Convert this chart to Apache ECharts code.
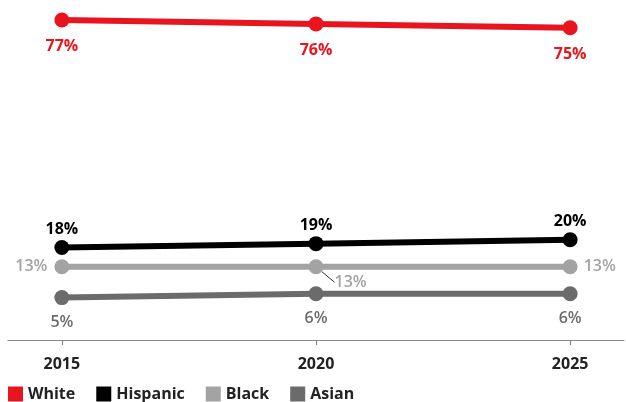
<!DOCTYPE html>
<html><head><meta charset="utf-8">
<script src="https://cdn.jsdelivr.net/npm/echarts@6/dist/echarts.min.js"></script>
<style>html,body{margin:0;padding:0;background:#fff}#c{width:626px;height:402px}</style>
</head><body><div id="c"></div>
<script>
const years = [2015, 2020, 2025];
const tickYears = [2015, 2020, 2025];
const seriesNames = ['White', 'Hispanic', 'Black', 'Asian'];
const white = [77, 76, 75];
const hispanic = [18, 19, 20];
const black = [13, 13, 13];
const asian = [5, 6, 6];
const colors = ['#e8141e', '#000000', '#a3a3a3', '#6b6b6b'];

const FONT = '"Open Sans"';
function pairs(vals) { return years.map((y, i) => [y, vals[i]]); }
function pct(p) { return p.value[1] + '%'; }

function mk(name, vals, color, label, extra) {
  return Object.assign({
    name: name,
    type: 'line',
    data: pairs(vals),
    symbol: 'circle',
    symbolSize: 15,
    lineStyle: { width: 6, color: color },
    itemStyle: { color: color },
    label: Object.assign({ show: true, formatter: pct, fontFamily: FONT, fontSize: 16, fontWeight: 'bold', color: color }, label),
    emphasis: { disabled: true },
    animation: false
  }, extra || {});
}

const blackData = pairs(black).map((d, i) => {
  const item = { value: d };
  if (i === 0) item.label = { position: 'left', distance: 7 };
  if (i === 1) item.label = { position: [26, 15] };
  if (i === 2) item.label = { position: 'right', distance: 6 };
  if (i === 1) item.labelLine = { show: true, lineStyle: { color: '#333', width: 1 } };
  return item;
});

const chart = echarts.init(document.getElementById('c'));
chart.setOption({
  animation: false,
  grid: { left: 8, right: 2, top: 8.5, bottom: 62, containLabel: false },
  legend: {
    data: seriesNames,
    left: 8, top: 386, padding: 0,
    itemWidth: 15, itemHeight: 15, itemGap: 21,
    icon: 'rect',
    textStyle: { fontFamily: FONT, fontSize: 16, fontWeight: 'bold', color: '#222' },
    selectedMode: false
  },
  xAxis: {
    type: 'value',
    min: 2013.94,
    max: 2026.06,
    splitLine: { show: false },
    axisLine: { show: true, onZero: false, lineStyle: { color: '#888', width: 1.2 } },
    axisTick: { show: true, customValues: tickYears, length: 5, lineStyle: { color: '#888', width: 1.2 } },
    axisLabel: { customValues: tickYears, formatter: v => String(Math.round(v)), fontFamily: FONT, fontSize: 16, fontWeight: 'bold', color: '#222', margin: 16 }
  },
  yAxis: { type: 'value', min: -6, max: 80, show: false, splitLine: { show: false } },
  series: [
    mk('Asian', asian, colors[3], { position: 'bottom', distance: 9, color: '#6b6b6b', fontWeight: 600 }),
    Object.assign(mk('Black', black, colors[2], { color: '#a3a3a3', fontWeight: 600 }), { data: blackData }),
    mk('Hispanic', hispanic, colors[1], { position: 'top', distance: 3 }),
    mk('White', white, colors[0], { position: 'bottom', distance: 11 })
  ]
});
</script></body></html>
